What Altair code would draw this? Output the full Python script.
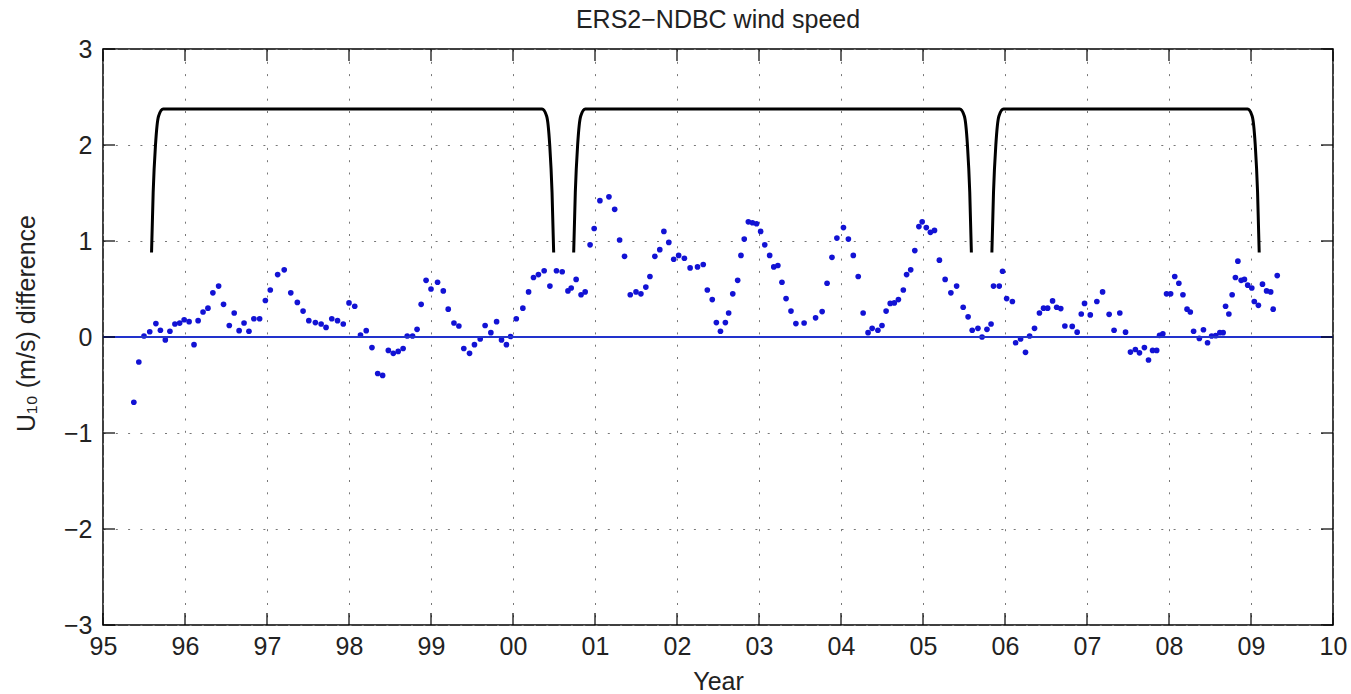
import altair as alt
import pandas as pd

TITLE = "ERS2\u2212NDBC wind speed"
X_TITLE = "Year"
Y_TITLE = "U\u2081\u2080 (m/s) difference"

YEARS = [
    95.376, 95.437, 95.50, 95.57, 95.645, 95.70, 95.76, 95.816, 95.877, 95.935, 95.99,
    96.05, 96.11, 96.16, 96.22, 96.28, 96.34, 96.41, 96.47, 96.54, 96.60, 96.66, 96.72,
    96.78, 96.84, 96.91, 96.98, 97.04, 97.13, 97.21, 97.29, 97.37, 97.44, 97.51, 97.59,
    97.66, 97.72, 97.79, 97.86, 97.93, 98.00, 98.07, 98.14, 98.21, 98.28, 98.35, 98.41,
    98.48, 98.54, 98.60, 98.66, 98.71, 98.775, 98.83, 98.88, 98.94, 99.00, 99.08, 99.15,
    99.21, 99.28, 99.34, 99.40, 99.47, 99.53, 99.60, 99.66, 99.73, 99.80, 99.86, 99.92,
    99.97, 100.04, 100.12, 100.19, 100.25, 100.31, 100.38, 100.45, 100.53, 100.60, 100.67,
    100.71, 100.77, 100.83, 100.88, 100.94, 100.99, 101.06, 101.17, 101.24, 101.30, 101.36,
    101.43, 101.50, 101.56, 101.62, 101.67, 101.73, 101.79, 101.84, 101.90, 101.96, 102.02,
    102.09, 102.16, 102.25, 102.32, 102.37, 102.43, 102.48, 102.53, 102.59, 102.63, 102.68,
    102.74, 102.78, 102.82, 102.87, 102.92, 102.97, 103.02, 103.07, 103.13, 103.18, 103.23,
    103.28, 103.33, 103.39, 103.45, 103.55, 103.69, 103.77, 103.83, 103.89, 103.95, 104.03,
    104.09, 104.15, 104.21, 104.27, 104.33, 104.38, 104.45, 104.50, 104.55, 104.60, 104.65,
    104.70, 104.76, 104.80, 104.85, 104.90, 104.95, 104.99, 105.04, 105.09, 105.14, 105.20,
    105.27, 105.34, 105.41, 105.49, 105.55, 105.60, 105.67, 105.72, 105.78, 105.83, 105.86,
    105.93, 105.97, 106.02, 106.09, 106.13, 106.19, 106.25, 106.30, 106.36, 106.42, 106.47,
    106.52, 106.58, 106.63, 106.68, 106.73, 106.82, 106.88, 106.93, 106.97, 107.04, 107.12,
    107.19, 107.27, 107.33, 107.40, 107.47, 107.53, 107.59, 107.64, 107.70, 107.75, 107.80,
    107.85, 107.885, 107.925, 107.97, 108.02, 108.07, 108.12, 108.17, 108.22, 108.26, 108.30,
    108.37, 108.42, 108.47, 108.52, 108.57, 108.62, 108.66, 108.69, 108.73, 108.77, 108.81,
    108.84, 108.88, 108.92, 108.96, 109.01, 109.04, 109.09, 109.14, 109.19, 109.24, 109.27,
    109.32,
]

DIFF = [
    -0.68, -0.26, 0.01, 0.055, 0.14, 0.07, -0.03, 0.06, 0.135, 0.145, 0.18,
    0.16, -0.08, 0.17, 0.26, 0.30, 0.46, 0.53, 0.34, 0.12, 0.25, 0.066, 0.146,
    0.06, 0.19, 0.19, 0.38, 0.49, 0.65, 0.70, 0.46, 0.36, 0.27, 0.17, 0.15,
    0.135, 0.10, 0.19, 0.17, 0.135, 0.355, 0.32, 0.02, 0.066, -0.11, -0.38, -0.40,
    -0.14, -0.17, -0.15, -0.12, 0.01, 0.01, 0.08, 0.34, 0.59, 0.50, 0.57, 0.48,
    0.29, 0.146, 0.115, -0.12, -0.17, -0.08, -0.02, 0.12, 0.045, 0.16, -0.03, -0.08,
    0.005, 0.19, 0.30, 0.47, 0.62, 0.65, 0.69, 0.53, 0.69, 0.68, 0.48,
    0.51, 0.60, 0.44, 0.47, 0.96, 1.13, 1.42, 1.46, 1.33, 1.01, 0.84,
    0.44, 0.47, 0.45, 0.52, 0.63, 0.84, 0.91, 1.10, 0.985, 0.81, 0.85,
    0.82, 0.72, 0.73, 0.755, 0.49, 0.39, 0.15, 0.06, 0.15, 0.25, 0.45,
    0.59, 0.85, 1.02, 1.20, 1.19, 1.18, 1.10, 0.96, 0.85, 0.73, 0.745,
    0.57, 0.40, 0.27, 0.14, 0.146, 0.20, 0.265, 0.56, 0.83, 1.03, 1.14,
    1.02, 0.85, 0.63, 0.25, 0.045, 0.09, 0.07, 0.12, 0.27, 0.35, 0.355,
    0.39, 0.49, 0.65, 0.70, 0.90, 1.15, 1.20, 1.14, 1.09, 1.11, 0.80,
    0.60, 0.46, 0.53, 0.31, 0.21, 0.07, 0.09, 0.0, 0.08, 0.135, 0.53,
    0.53, 0.685, 0.40, 0.37, -0.06, -0.02, -0.16, 0.01, 0.09, 0.25, 0.30,
    0.30, 0.376, 0.31, 0.296, 0.115, 0.11, 0.05, 0.24, 0.35, 0.23, 0.37,
    0.47, 0.236, 0.07, 0.25, 0.05, -0.157, -0.13, -0.165, -0.11, -0.24, -0.14,
    -0.14, 0.017, 0.034, 0.45, 0.45, 0.63, 0.56, 0.44, 0.29, 0.26, 0.06,
    -0.015, 0.076, -0.06, 0.01, 0.014, 0.045, 0.045, 0.32, 0.24, 0.44, 0.62,
    0.79, 0.59, 0.60, 0.54, 0.51, 0.37, 0.33, 0.55, 0.48, 0.47, 0.29,
    0.64,
]

X_TICKS = list(range(95, 111))
X_TICK_LABELS = ["95", "96", "97", "98", "99", "00", "01", "02", "03", "04",
                 "05", "06", "07", "08", "09", "10"]
Y_TICKS = [-3, -2, -1, 0, 1, 2, 3]
ZERO_LINE = [0.0]

BRACKET_START = [95.592, 100.74, 105.84]
BRACKET_END = [100.496, 105.59, 109.10]
BRACKET_LOW = 0.88
BRACKET_HIGH = 2.375
CORNER_WIDTH = 0.142
CORNER_PROFILE_X = [0.0, 0.14, 0.34, 0.6, 1.0]
CORNER_PROFILE_Y = [0.0, 0.42, 0.75, 0.95, 1.0]

FONT = "Liberation Sans"
W, H = 1230, 576

points = pd.DataFrame({"year": YEARS, "diff": DIFF})
xticks = pd.DataFrame({"year": X_TICKS})
yticks = pd.DataFrame({"diff": Y_TICKS})
zero = pd.DataFrame({"diff": ZERO_LINE})
title_df = pd.DataFrame({"t": [TITLE]})

rows = []
for i, (x0, x1) in enumerate(zip(BRACKET_START, BRACKET_END)):
    for px, py in zip(CORNER_PROFILE_X, CORNER_PROFILE_Y):
        rows.append({"b": i, "year": x0 + CORNER_WIDTH * px,
                     "diff": BRACKET_LOW + (BRACKET_HIGH - BRACKET_LOW) * py})
    for px, py in reversed(list(zip(CORNER_PROFILE_X, CORNER_PROFILE_Y))):
        rows.append({"b": i, "year": x1 - CORNER_WIDTH * px,
                     "diff": BRACKET_LOW + (BRACKET_HIGH - BRACKET_LOW) * py})
brackets = pd.DataFrame(rows)

label_expr = "[" + ",".join(f"'{s}'" for s in X_TICK_LABELS) + f"][round(datum.value) - {X_TICKS[0]}]"

xscale = alt.Scale(domain=[95, 110], nice=False, zero=False)
yscale = alt.Scale(domain=[-3, 3], nice=False, zero=False)

x_axis = alt.Axis(values=X_TICKS, labelExpr=label_expr, grid=True, domain=False,
                  ticks=False, tickSize=0, labelPadding=9, labelFontSize=25,
                  labelFont=FONT, labelColor="#222", labelFlush=False,
                  title=X_TITLE, titleFontSize=25, titleFont=FONT,
                  titleFontWeight="normal", titleColor="#222",
                  titleBaseline="alphabetic", titleY=64)
y_axis = alt.Axis(values=Y_TICKS, grid=True, domain=False, ticks=False, tickSize=0,
                  labelPadding=11, labelFontSize=25, labelFont=FONT, labelColor="#222",
                  labelFlush=False,
                  title=Y_TITLE, titleFontSize=25, titleFont=FONT,
                  titleFontWeight="normal", titleColor="#222",
                  titleAngle=270, titleAlign="center", titleBaseline="alphabetic",
                  titleX=-69, titleY=274)

X = alt.X("year:Q", scale=xscale, axis=x_axis, title=X_TITLE)
Y = alt.Y("diff:Q", scale=yscale, axis=y_axis, title=Y_TITLE)

pts = alt.Chart(points).mark_circle(size=32, color="#1212d4", opacity=1).encode(x=X, y=Y)

zero_line = alt.Chart(zero).mark_rule(color="#2233cc", strokeWidth=2).encode(y=Y)

bracket_lines = alt.Chart(brackets).mark_line(
    color="black", strokeWidth=3, interpolate="monotone"
).encode(x=X, y=Y, detail="b:N")

tick_style = dict(color="black", strokeWidth=1.2)
xt_bottom = alt.Chart(xticks).mark_rule(**tick_style).encode(
    x=X, y=alt.value(H), y2=alt.value(H - 12))
xt_top = alt.Chart(xticks).mark_rule(**tick_style).encode(
    x=X, y=alt.value(0), y2=alt.value(12))
yt_left = alt.Chart(yticks).mark_rule(**tick_style).encode(
    y=Y, x=alt.value(0), x2=alt.value(12))
yt_right = alt.Chart(yticks).mark_rule(**tick_style).encode(
    y=Y, x=alt.value(W), x2=alt.value(W - 12))

title_text = alt.Chart(title_df).mark_text(
    font=FONT, fontSize=25, color="#222", align="center", baseline="alphabetic"
).encode(x=alt.value(W / 2), y=alt.value(-21), text="t:N")

chart = alt.layer(
    pts, zero_line, bracket_lines, xt_bottom, xt_top, yt_left, yt_right, title_text
).properties(
    width=W, height=H,
    autosize=alt.AutoSizeParams(type="none"),
    padding={"left": 103, "top": 49, "right": 18, "bottom": 69},
    background="white",
).configure_view(
    stroke="black", strokeWidth=1.5,
).configure_axis(
    gridColor="#777", gridDash=[2, 10.3], gridWidth=1, gridOpacity=1,
)

chart.save("out.html", embed_options={"renderer": "svg", "actions": False})
